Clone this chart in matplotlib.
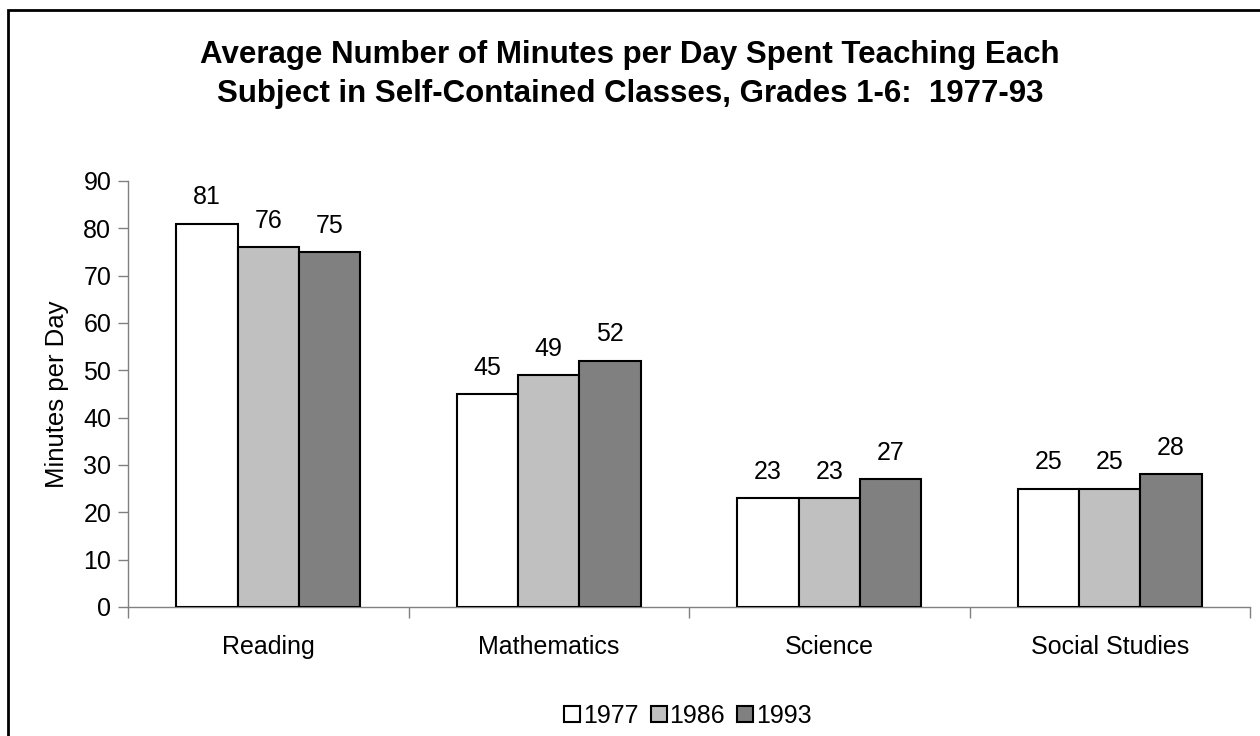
import numpy as np
import matplotlib
matplotlib.use("Agg")
import matplotlib.pyplot as plt
from matplotlib.patches import Rectangle

plt.rcParams['font.family'] = ['Liberation Sans', 'DejaVu Sans']

# data
subjects = ["Reading", "Mathematics", "Science", "Social Studies"]
years = ["1977", "1986", "1993"]
v1977 = [81, 45, 23, 25]
v1986 = [76, 49, 23, 25]
v1993 = [75, 52, 27, 28]
colors = ["#FFFFFF", "#C0C0C0", "#808080"]

fig = plt.figure(figsize=(12.6, 7.36), dpi=100)
ax = fig.add_axes([128/1260, 1-607/736, (1250-128)/1260, (607-181)/736])

x = np.arange(len(subjects))
w = 0.219
series = [v1977, v1986, v1993]
for i, (vals, c, yr) in enumerate(zip(series, colors, years)):
    bars = ax.bar(x + (i-1)*w, vals, w, color=c, edgecolor="black", lw=1.5, label=yr, zorder=3)
    for b, v in zip(bars, vals):
        ax.annotate(str(v), (b.get_x()+b.get_width()/2, v), xytext=(0, 14),
                    textcoords="offset points", ha="center", va="baseline", fontsize=18)

ax.set_xlim(-0.5, 3.5)
ax.set_ylim(0, 90)
ax.set_yticks(range(0, 91, 10))
ax.tick_params(axis="y", labelsize=18, length=7, color="#808080", width=1, pad=5)
ax.set_xticks(x)
ax.set_xticklabels(subjects, fontsize=18)
ax.tick_params(axis="x", which="major", length=0, pad=20)
ax.set_xticks(np.arange(-0.5, 4, 1), minor=True)
ax.tick_params(axis="x", which="minor", length=8, color="#808080", width=1)
for s in ["top", "right"]:
    ax.spines[s].set_visible(False)
for s in ["left", "bottom"]:
    ax.spines[s].set_color("#808080")
    ax.spines[s].set_linewidth(1)
ax.set_ylabel("Minutes per Day", fontsize=18.5, labelpad=10)

fig.text(630/1260, 1-63/736, "Average Number of Minutes per Day Spent Teaching Each",
         ha="center", va="baseline", fontsize=22.5, fontweight="bold")
fig.text(630/1260, 1-102/736, "Subject in Self-Contained Classes, Grades 1-6:  1977-93",
         ha="center", va="baseline", fontsize=22.5, fontweight="bold")

fig.legend(loc="center", bbox_to_anchor=(688/1260, 1-716/736), ncol=3, frameon=False,
           fontsize=18, handlelength=0.64, handleheight=0.64, handletextpad=0.1,
           columnspacing=0.5)

fig.add_artist(Rectangle((8/1260, -0.1), 2, 1.1 - 10/736, transform=fig.transFigure,
                         fill=False, lw=2, edgecolor="black"))

fig.savefig("out.png", dpi=100)
